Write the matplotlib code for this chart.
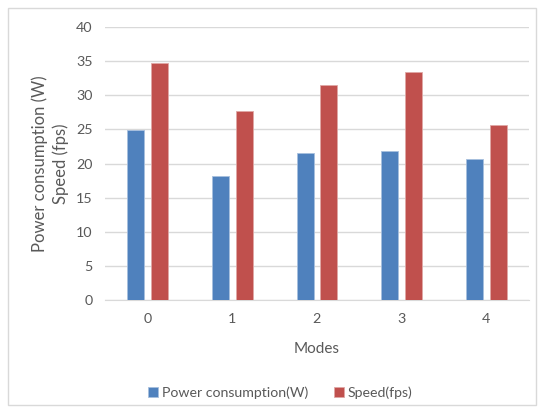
import numpy as np
import matplotlib.pyplot as plt
from matplotlib.patches import Rectangle

modes = ['0', '1', '2', '3', '4']
power = [24.9, 18.2, 21.5, 21.8, 20.7]
speed = [34.7, 27.6, 31.5, 33.4, 25.6]
yticks = [0, 5, 10, 15, 20, 25, 30, 35, 40]

plt.rcParams['font.family'] = ['Lato', 'DejaVu Sans']
txt = '#595959'
blue = '#4F81BD'
red = '#C0504D'

fig = plt.figure(figsize=(5.39, 4.08), dpi=100)
ax = fig.add_axes([0.195, 0.2635, 0.786, 0.6715])

x = np.arange(len(modes))
w = 0.2
ax.bar(x - 0.14, power, w, color=blue, edgecolor='#A7BFDE', linewidth=0.6, label='Power consumption(W)', zorder=3)
ax.bar(x + 0.14, speed, w, color=red, edgecolor='#DFA8A6', linewidth=0.6, label='Speed(fps)', zorder=3)

ax.set_xlim(-0.5, 4.5)
ax.set_ylim(0, 40)
ax.set_yticks(yticks)
ax.set_xticks(x)
ax.set_xticklabels(modes)
ax.grid(axis='y', color='#D9D9D9', linewidth=1.0, zorder=0)
for s in ['top', 'right', 'left']:
    ax.spines[s].set_visible(False)
ax.spines['bottom'].set_color('#D9D9D9')
ax.tick_params(length=0, labelsize=10.3, colors=txt, pad=9)

ax.set_xlabel('Modes', fontsize=11, color=txt, labelpad=12)
ax.set_ylabel('Power consumption (W)\nSpeed (fps)', fontsize=12, color=txt, labelpad=5, linespacing=1.3)

fig.legend(loc='center', bbox_to_anchor=(0.52, 0.038), ncol=2, frameon=False,
           fontsize=10.2, labelcolor=txt, handlelength=0.7, handleheight=0.7,
           handletextpad=0.3, columnspacing=1.8)

fig.patches.append(Rectangle((0.014, 0.008), 0.98, 0.972, transform=fig.transFigure,
                             fill=False, edgecolor='#D9D9D9', linewidth=1.0))

fig.savefig('out.png', dpi=100)
